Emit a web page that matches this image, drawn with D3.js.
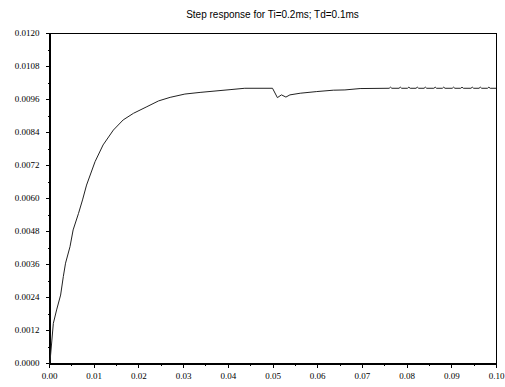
<!DOCTYPE html>
<html>
<head>
<meta charset="utf-8">
<script src="https://cdn.jsdelivr.net/npm/d3@7"></script>
<style>
  body { margin: 0; background: #fff; }
  svg { display: block; }
  .tick text { font-family: "Liberation Serif", serif; font-size: 9px; fill: #000; }
  .domain, .tick line { stroke: #000; shape-rendering: crispEdges; }
  .title { font-family: "Liberation Sans", Arial, sans-serif; font-size: 10px; fill: #000; }
  .curve { fill: none; stroke: #222; stroke-width: 1; }
  .frame { fill: none; stroke: #000; shape-rendering: crispEdges; }
</style>
</head>
<body>
<div id="chart"></div>
<script>
// step response samples (time in s, output)
const time = [0, 0.0002, 0.00097, 0.0017, 0.0026, 0.0032, 0.0037, 0.0047, 0.0054, 0.0066,
  0.0075, 0.0084, 0.0103, 0.0121, 0.0144, 0.0166, 0.0189, 0.0219, 0.0245, 0.0271,
  0.0304, 0.0338, 0.0405, 0.0438, 0.05, 0.0511, 0.052, 0.053,
  0.0539, 0.0562, 0.0599, 0.0636, 0.0662, 0.0696, 0.0761, 0.0764, 0.0767, 0.0783, 0.0786, 0.0789,
  0.0802, 0.0805, 0.0808, 0.0821, 0.0824, 0.0827, 0.0839, 0.0842, 0.0845, 0.0861, 0.0864, 0.0867,
  0.088, 0.0883, 0.0886, 0.0902, 0.0905, 0.0908, 0.0921, 0.0924, 0.0927, 0.0944, 0.0947, 0.095,
  0.0962, 0.0965, 0.0968, 0.0981, 0.0984, 0.0987, 0.1];
const output = [0, 0, 0.00144, 0.00193, 0.00247, 0.00314, 0.00363, 0.00423, 0.00484, 0.00544,
  0.00593, 0.00647, 0.00732, 0.00793, 0.00847, 0.00884, 0.00908, 0.00932, 0.00953, 0.00966,
  0.00978, 0.00984, 0.00994, 0.00999, 0.00999, 0.00965, 0.00975, 0.00967,
  0.00975, 0.00981, 0.00987, 0.00992, 0.00993, 0.00998, 0.00999, 0.01003, 0.00999, 0.00999, 0.01003, 0.00999,
  0.00999, 0.01003, 0.00999, 0.00999, 0.01003, 0.00999, 0.00999, 0.01003, 0.00999, 0.00999, 0.01003, 0.00999,
  0.00999, 0.01003, 0.00999, 0.00999, 0.01003, 0.00999, 0.00999, 0.01003, 0.00999, 0.00999, 0.01003, 0.00999,
  0.00999, 0.01003, 0.00999, 0.00999, 0.01003, 0.00999, 0.00999];

const xTicks = [0, 0.01, 0.02, 0.03, 0.04, 0.05, 0.06, 0.07, 0.08, 0.09, 0.1];
const xMinor = [0.005, 0.015, 0.025, 0.035, 0.045, 0.055, 0.065, 0.075, 0.085, 0.095];
const yTicks = [0, 0.0012, 0.0024, 0.0036, 0.0048, 0.006, 0.0072, 0.0084, 0.0096, 0.0108, 0.012];
const yMinor = [0.0006, 0.0018, 0.003, 0.0042, 0.0054, 0.0066, 0.0078, 0.009, 0.0102, 0.0114];

const titleText = 'Step response for Ti=0.2ms; Td=0.1ms';

const width = 505;
const height = 387;
const margin = { top: 33, right: 9, bottom: 24, left: 49 };

const svg = d3.select('#chart')
              .append('svg')
              .attr('width', width)
              .attr('height', height);

const x = d3.scaleLinear()
            .domain([0, 0.1])
            .range([margin.left, width - margin.right]);
const y = d3.scaleLinear()
            .domain([0, 0.012])
            .range([height - margin.bottom, margin.top]);

// frame
svg.append('rect')
   .attr('class', 'frame')
   .attr('x', x(0) + 0.5)
   .attr('y', y(0.012) + 0.5)
   .attr('width', x(0.1) - x(0))
   .attr('height', y(0) - y(0.012));

// minor ticks
svg.append('g')
   .attr('transform', `translate(0, ${y(0) + 0.5})`)
   .call(d3.axisBottom(x).tickValues(xMinor).tickSize(2).tickFormat(''))
   .call((g) => g.select('.domain').remove());
svg.append('g')
   .attr('transform', `translate(${x(0) + 0.5}, 0)`)
   .call(d3.axisLeft(y).tickValues(yMinor).tickSize(2).tickFormat(''))
   .call((g) => g.select('.domain').remove());

// X axis
svg.append('g')
   .attr('transform', `translate(0, ${y(0) + 0.5})`)
   .call(d3.axisBottom(x)
           .tickValues(xTicks)
           .tickSize(4)
           .tickPadding(5)
           .tickSizeOuter(0)
           .tickFormat(d3.format('.2f')));

// Y axis
svg.append('g')
   .attr('transform', `translate(${x(0) + 0.5}, 0)`)
   .call(d3.axisLeft(y)
           .tickValues(yTicks)
           .tickSize(4)
           .tickPadding(6)
           .tickSizeOuter(0)
           .tickFormat(d3.format('.4f')));

// the response
const line = d3.line()
               .x((d, i) => x(time[i]))
               .y((d) => y(d));
svg.append('path')
   .attr('class', 'curve')
   .attr('d', line(output));

svg.append('text')
   .attr('class', 'title')
   .attr('x', (x(0) + x(0.1)) / 2)
   .attr('y', 18)
   .attr('text-anchor', 'middle')
   .text(titleText);
</script>
</body>
</html>
